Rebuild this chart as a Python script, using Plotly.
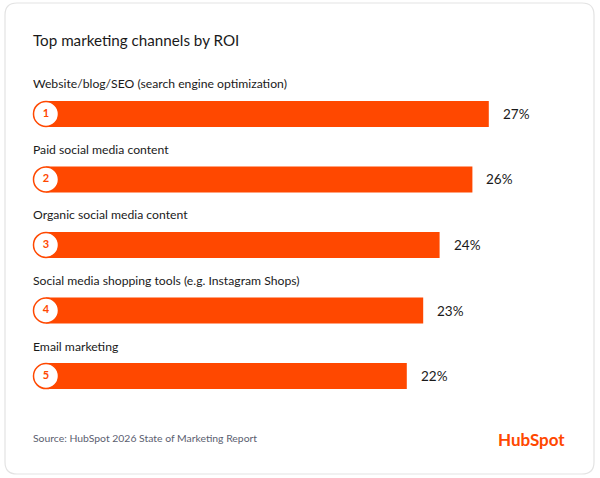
import plotly.graph_objects as go

categories = [
    "Website/blog/SEO (search engine optimization)",
    "Paid social media content",
    "Organic social media content",
    "Social media shopping tools (e.g. Instagram Shops)",
    "Email marketing",
]
values = [27, 26, 24, 23, 22]
ranks = ["1", "2", "3", "4", "5"]

ORANGE = "#ff4800"
W, H = 600, 478
FONT = "Lato"

pos = list(range(len(categories)))

fig = go.Figure()
fig.add_trace(go.Bar(
    x=values, y=pos, orientation="h", width=0.4,
    marker=dict(color=ORANGE, line=dict(width=0)),
    hoverinfo="skip",
))
fig.add_trace(go.Scatter(
    x=[0] * len(pos), y=pos, mode="markers+text",
    text=[f"<b>{r}</b>" for r in ranks], textposition="middle center",
    textfont=dict(family=FONT, size=11, color=ORANGE),
    marker=dict(size=25, color="white", line=dict(color=ORANGE, width=1.5)),
    cliponaxis=False, hoverinfo="skip",
))

annotations = []
for i, (c, v) in enumerate(zip(categories, values)):
    annotations.append(dict(
        x=0, y=i, xref="x", yref="y", text=c, showarrow=False,
        xanchor="left", yanchor="middle", xshift=-15, yshift=30,
        font=dict(family=FONT, size=12.2, color="#1a1a1a"),
    ))
    annotations.append(dict(
        x=v, y=i, xref="x", yref="y", text=f"{v}%", showarrow=False,
        xanchor="left", yanchor="middle", xshift=12,
        font=dict(family=FONT, size=13.5, color="#1a1a1a"),
    ))

annotations += [
    dict(x=31 / W, y=1 - 40 / H, xref="paper", yref="paper",
         text="Top marketing channels by ROI", showarrow=False,
         xanchor="left", yanchor="middle",
         font=dict(family=FONT, size=15.2, color="#1a1a1a")),
    dict(x=31 / W, y=1 - 438 / H, xref="paper", yref="paper",
         text="Source: HubSpot 2026 State of Marketing Report", showarrow=False,
         xanchor="left", yanchor="middle",
         font=dict(family=FONT, size=10.4, color="#5b6070")),
    dict(x=567 / W, y=1 - 439 / H, xref="paper", yref="paper",
         text="<b>HubSpot</b>", showarrow=False,
         xanchor="right", yanchor="middle",
         font=dict(family=FONT, size=17, color=ORANGE)),
]

# rounded card outline
x0, x1, y0, y1, r = 5 / W, 594 / W, 1 - 3 / H, 1 - 474 / H, 12
rx, ry = r / W, r / H
path = (f"M {x0+rx},{y0} L {x1-rx},{y0} Q {x1},{y0} {x1},{y0-ry} "
        f"L {x1},{y1+ry} Q {x1},{y1} {x1-rx},{y1} L {x0+rx},{y1} "
        f"Q {x0},{y1} {x0},{y1+ry} L {x0},{y0-ry} Q {x0},{y0} {x0+rx},{y0} Z")

fig.update_layout(
    width=W, height=H,
    margin=dict(l=0, r=0, t=0, b=0),
    paper_bgcolor="white", plot_bgcolor="rgba(0,0,0,0)",
    showlegend=False,
    xaxis=dict(range=[0, 30], domain=[46 / W, 538 / W], visible=False, fixedrange=True),
    yaxis=dict(range=[5.557, -1.740], domain=[0, 1], visible=False, fixedrange=True),
    annotations=annotations,
    shapes=[dict(type="path", path=path, xref="paper", yref="paper",
                 line=dict(color="#e3e3e3", width=1.2), layer="below")],
)

fig.write_html("out.html", config={"displayModeBar": False},
               post_script="document.body.style.margin='0';")
